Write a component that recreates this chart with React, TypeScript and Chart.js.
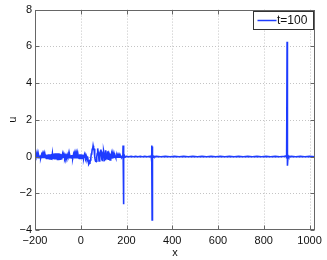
import React, { useEffect, useRef } from "react";
import { Chart, registerables } from "chart.js";

Chart.register(...registerables);

const SERIES_LABEL = "t=100";
const X_TITLE = "x";
const Y_TITLE = "u";
const X_MIN = -200;
const X_MAX = 1024;
const Y_MIN = -4;
const Y_MAX = 8;
const xTicks = [-200, 0, 200, 400, 600, 800, 1000];
const yTicks = [-4, -2, 0, 2, 4, 6, 8];

// sampled positions
const xs = [
  -200, -198, -196, -194, -192, -190, -188, -186, -184, -182,
  -180, -178, -176, -174, -172, -170, -168, -166, -164, -162,
  -160, -158, -156, -154, -152, -150, -148, -146, -144, -142,
  -140, -138, -136, -134, -132, -130, -128, -126, -124, -122,
  -120, -118, -116, -114, -112, -110, -108, -106, -104, -102,
  -100, -98, -96, -94, -92, -90, -88, -86, -84, -82,
  -80, -78, -76, -74, -72, -70, -68, -66, -64, -62,
  -60, -58, -56, -54, -52, -50, -48, -46, -44, -42,
  -40, -38, -36, -34, -32, -30, -28, -26, -24, -22,
  -20, -18, -16, -14, -12, -10, -8, -6, -4, -2,
  0, 2, 4, 6, 8, 10, 12, 14, 16, 18,
  20, 22, 24, 26, 28,
  30, 32, 34, 36, 38, 40, 42, 44, 46, 48,
  50, 52, 54, 56, 58, 60, 62, 64, 66, 68,
  70, 72, 74, 76, 78, 80, 82, 84, 86, 88,
  90, 92, 94, 96, 98, 100, 102, 104, 106, 108,
  110, 112, 114, 116, 118, 120, 122, 124, 126, 128,
  130, 132, 134, 136, 138, 140, 142, 144, 146, 148,
  150, 152, 154, 156, 158, 160, 162, 164, 166, 168,
  170, 172, 174, 176, 178, 180,
  182, 184, 185, 186, 187, 188, 189, 191, 194, 200,
  210, 220, 230, 240, 250, 260, 270, 280, 290, 300,
  305, 308, 310, 311, 312, 313, 314, 316, 320,
  330, 350, 370, 390, 410, 430, 450, 470, 490, 510, 530, 550, 570, 590, 610, 630, 650, 670,
  690, 710, 730, 750, 770, 790, 810, 830, 850, 870, 890,
  898, 900, 902, 903, 904, 906, 909,
  920, 940, 960, 980, 1000, 1024,
];

// u values
const us = [
  0.04, -0.04, 0.04, -0.05, 0.05, -0.05, 0.05, -0.06, 0.06, -0.06,
  0.06, -0.07, 0.07, -0.07, 0.07, -0.08, 0.08, -0.08, 0.08, -0.09,
  0.09, -0.09, 0.09, -0.1, 0.1, -0.1, 0.1, -0.11, 0.11, -0.11,
  0.12, -0.12, 0.12, -0.13, 0.13, -0.13, 0.14, -0.14, 0.15, -0.15,
  0.16, -0.15, 0.16, -0.16, 0.17, -0.16, 0.18, -0.16, 0.18, -0.16,
  0.18, -0.16, 0.17, -0.15, 0.16, -0.14, 0.14, -0.12, 0.12, -0.1,
  0.1, -0.09, 0.08, -0.07, 0.06, -0.05, 0.05, -0.04, 0.04, -0.04,
  0.04, -0.04, 0.05, -0.05, 0.05, -0.06, 0.06, -0.06, 0.07, -0.07,
  0.08, -0.08, 0.08, -0.09, 0.09, -0.09, 0.1, -0.1, 0.1, -0.1,
  0.1, -0.1, 0.11, -0.1, 0.11, -0.11, 0.11, -0.11, 0.12, -0.11,
  0.12, -0.11, 0.11, -0.11, 0.1, -0.1, 0.09, -0.09, 0.08, -0.07,
  0.06, -0.05, 0.04, -0.04, -0.02,
  -0.01, -0.19, -0.26, -0.42, -0.36, -0.34, -0.18, -0.09, 0.14, 0.16,
  0.39, 0.41, 0.59, 0.46, 0.42, 0.11, -0.01, -0.24, -0.26, -0.26,
  -0.01, 0.16, 0.44, 0.26, 0.09, -0.24, -0.21, -0.09, 0.29, 0.38,
  0.24, -0.14, -0.21, -0.14, 0.24, 0.31, 0.19, -0.19, -0.16, 0.01,
  0.34, 0.06, -0.14, 0.11, 0.29, -0.14, -0.11, 0.16, 0.09, -0.19,
  0.15, -0.1, 0.12, -0.12, 0.1, -0.1, 0.09, -0.08, 0.08, -0.07,
  0.06, -0.05, 0.05, -0.04, 0.04, -0.04, 0.03, -0.03, 0.03, -0.03,
  0.03, -0.03, 0.03, -0.03, 0.03, -0.03,
  0.03, -0.05, 0.6, -0.3, -2.6, 0.55, -0.1, 0.05, -0.03, 0.01,
  -0.01, 0.01, -0.01, 0.01, -0.01, 0.01, -0.01, 0.01, -0.01, 0.01,
  -0.02, 0.04, 0.6, -0.3, -3.45, 0.55, -0.1, 0.04, -0.02,
  0.01, -0.01, 0.01, -0.01, 0.01, -0.01, 0.01, -0.01, 0.01, -0.01, 0.01, -0.01, 0.01, -0.01, 0.01, -0.01, 0.01, -0.01,
  0.01, -0.01, 0.01, -0.01, 0.01, -0.01, 0.01, -0.01, 0.01, -0.01, 0.01,
  0.03, -0.1, 6.25, -0.2, -0.5, 0.05, -0.02,
  0.01, -0.01, 0.01, -0.01, 0.01, -0.01,
];

const LINE_COLOR = "rgb(30,60,255)";
const FONT = "'Liberation Sans', Arial, Helvetica, sans-serif";

const fmt = (v: number) => (v < 0 ? "\u2212" + Math.abs(v) : String(v));

const matlabPlugin = {
  id: "matlabAxes",
  beforeDatasetsDraw(chart: any) {
    const { ctx, chartArea: a, scales } = chart;
    ctx.save();
    ctx.strokeStyle = "#c4c4c4";
    ctx.lineWidth = 1;
    ctx.setLineDash([1, 2]);
    xTicks.forEach((v) => {
      const px = Math.round(scales.x.getPixelForValue(v)) + 0.5;
      if (px <= a.left + 1 || px >= a.right - 1) return;
      ctx.beginPath();
      ctx.moveTo(px, a.top);
      ctx.lineTo(px, a.bottom);
      ctx.stroke();
    });
    yTicks.forEach((v) => {
      const py = Math.round(scales.y.getPixelForValue(v)) + 0.5;
      if (py <= a.top + 1 || py >= a.bottom - 1) return;
      ctx.beginPath();
      ctx.moveTo(a.left, py);
      ctx.lineTo(a.right, py);
      ctx.stroke();
    });
    ctx.restore();
  },
  afterDatasetsDraw(chart: any) {
    const { ctx, chartArea: a, scales } = chart;
    const L = Math.round(a.left) + 0.5;
    const R = Math.round(a.right) - 0.5;
    const T = Math.round(a.top) + 0.5;
    const B = Math.round(a.bottom) - 0.5;
    ctx.save();
    ctx.strokeStyle = "#666";
    ctx.lineWidth = 1;
    ctx.setLineDash([]);
    ctx.strokeRect(L, T, R - L, B - T);
    const tl = 4;
    xTicks.forEach((v) => {
      const px = Math.round(scales.x.getPixelForValue(v)) + 0.5;
      ctx.beginPath();
      ctx.moveTo(px, B);
      ctx.lineTo(px, B - tl);
      ctx.moveTo(px, T);
      ctx.lineTo(px, T + tl);
      ctx.stroke();
    });
    yTicks.forEach((v) => {
      const py = Math.round(scales.y.getPixelForValue(v)) + 0.5;
      ctx.beginPath();
      ctx.moveTo(L, py);
      ctx.lineTo(L + tl, py);
      ctx.moveTo(R, py);
      ctx.lineTo(R - tl, py);
      ctx.stroke();
    });
    // legend box
    const bx = 253.5, by = 11.5, bw = 60, bh = 18;
    ctx.fillStyle = "#fff";
    ctx.fillRect(bx, by, bw, bh);
    ctx.strokeStyle = "#333";
    ctx.strokeRect(bx, by, bw, bh);
    ctx.strokeStyle = LINE_COLOR;
    ctx.lineWidth = 1.5;
    ctx.beginPath();
    ctx.moveTo(bx + 4, by + 9);
    ctx.lineTo(bx + 23, by + 9);
    ctx.stroke();
    ctx.fillStyle = "#111";
    ctx.font = `12px ${FONT}`;
    ctx.textBaseline = "middle";
    ctx.textAlign = "left";
    ctx.fillText(chart.data.datasets[0].label, bx + 23.5, by + 9.5);
    ctx.restore();
  },
};

export default function App() {
  const ref = useRef<HTMLCanvasElement | null>(null);
  useEffect(() => {
    if (!ref.current) return;
    const points = xs.map((x, i) => ({ x, y: us[i] }));
    const chart = new Chart(ref.current, {
      type: "line",
      data: {
        datasets: [
          {
            label: SERIES_LABEL,
            data: points,
            borderColor: LINE_COLOR,
            backgroundColor: LINE_COLOR,
            borderWidth: 1.6,
            pointRadius: 0,
            tension: 0,
            fill: false,
          },
        ],
      },
      options: {
        responsive: false,
        animation: false,
        events: [],
        layout: { padding: { top: 8, right: 12, left: 0, bottom: 0 } },
        plugins: { legend: { display: false }, tooltip: { enabled: false } },
        scales: {
          x: {
            type: "linear",
            min: X_MIN,
            max: X_MAX,
            afterBuildTicks: (s: any) => {
              s.ticks = xTicks.map((v) => ({ value: v }));
            },
            afterFit: (s: any) => {
              s.height = 30;
            },
            grid: { display: false, drawTicks: false },
            border: { display: false },
            ticks: {
              color: "#111",
              font: { family: FONT, size: 11 },
              padding: 4,
              maxRotation: 0,
              autoSkip: false,
              callback: (v: any) => fmt(Number(v)),
            },
            title: {
              display: true,
              text: X_TITLE,
              color: "#111",
              font: { family: FONT, size: 11 },
              padding: { top: 0, bottom: 0 },
            },
          },
          y: {
            type: "linear",
            min: Y_MIN,
            max: Y_MAX,
            afterBuildTicks: (s: any) => {
              s.ticks = yTicks.map((v) => ({ value: v }));
            },
            afterFit: (s: any) => {
              s.width = 35;
            },
            grid: { display: false, drawTicks: false },
            border: { display: false },
            ticks: {
              color: "#111",
              font: { family: FONT, size: 11 },
              padding: 3,
              autoSkip: false,
              callback: (v: any) => fmt(Number(v)),
            },
            title: {
              display: true,
              text: Y_TITLE,
              color: "#111",
              font: { family: FONT, size: 11 },
              padding: { top: 6, bottom: 0 },
            },
          },
        },
      },
      plugins: [matlabPlugin],
    });
    return () => chart.destroy();
  }, []);
  return (
    <div style={{ position: "absolute", left: 0, top: 0, width: 327, height: 260, background: "#fff" }}>
      <canvas ref={ref} width={327} height={260} style={{ width: 327, height: 260, display: "block" }} />
    </div>
  );
}
